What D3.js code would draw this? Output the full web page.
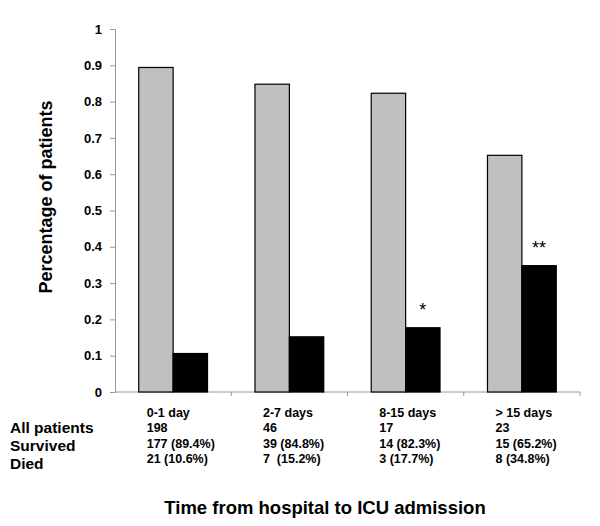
<!DOCTYPE html>
<html><head><meta charset="utf-8">
<script src="https://cdn.jsdelivr.net/npm/d3@7"></script>
<style>body{margin:0;background:#fff}svg{display:block;font-family:"Liberation Sans",Arial,sans-serif;font-weight:bold}</style>
</head><body><svg id="c" width="600" height="526"></svg>
<script>
const categories = ["0-1 day","2-7 days","8-15 days","> 15 days"];
const series = ["Survived","Died"];
const survived = [0.894,0.848,0.823,0.652];
const died = [0.106,0.152,0.177,0.348];
const allPatients = ["198","46","17","23"];
const survivedText = ["177 (89.4%)","39 (84.8%)","14 (82.3%)","15 (65.2%)"];
const diedText = ["21 (10.6%)","7  (15.2%)","3 (17.7%)","8 (34.8%)"];
const significance = ["","","*","**"];
const yTicks = [0,0.1,0.2,0.3,0.4,0.5,0.6,0.7,0.8,0.9,1];
const rowLabels = ["All patients","Survived","Died"];

const svg = d3.select("#c");
const x0 = d3.scaleBand().domain(categories).range([115,580]).padding(0);
const x1 = d3.scaleBand().domain(series).range([0,x0.bandwidth()]).paddingInner(0).paddingOuter(0.69);
const y = d3.scaleLinear().domain([0,1]).range([392,29]);
const color = {Survived:"#c0c0c0", Died:"#000000"};

// y axis
const ya = svg.append("g").attr("transform","translate(115,0)")
  .call(d3.axisLeft(y).tickValues(yTicks).tickSize(5).tickPadding(8).tickFormat(d=>d3.format("")(d)));
ya.select(".domain").attr("stroke","#999");
ya.selectAll(".tick line").attr("stroke","#999");
ya.selectAll("text").attr("font-size",13).attr("font-weight","bold").attr("fill","#000").attr("font-family","Liberation Sans, Arial, sans-serif");

// x axis
const xa = svg.append("g").attr("transform","translate(0,392)");
xa.append("line").attr("x1",115).attr("x2",580).attr("stroke","#999");
xa.selectAll("line.t").data(categories).enter().append("line").attr("class","t")
  .attr("x1",d=>x0(d)+x0.bandwidth()).attr("x2",d=>x0(d)+x0.bandwidth()).attr("y1",0).attr("y2",4).attr("stroke","#999");

// bars
const data = categories.map((c,i)=>({c, vals:[{s:"Survived",v:survived[i]},{s:"Died",v:died[i]}], sig:significance[i]}));
const g = svg.selectAll("g.grp").data(data).enter().append("g").attr("class","grp")
  .attr("transform",d=>`translate(${x0(d.c)},0)`);
g.selectAll("rect").data(d=>d.vals).enter().append("rect")
  .attr("x",d=>x1(d.s)).attr("width",x1.bandwidth())
  .attr("y",d=>y(d.v)).attr("height",d=>y(0)-y(d.v))
  .attr("fill",d=>color[d.s]).attr("stroke","#000").attr("stroke-width",1.2);
g.append("text").attr("x",x1("Died")+x1.bandwidth()/2).attr("y",d=>y(d.vals[1].v)-12)
  .attr("text-anchor","middle").attr("font-size",18).attr("font-weight","normal").text(d=>d.sig);

// y label
svg.append("text").attr("transform","translate(52,197) rotate(-90)").attr("text-anchor","middle")
  .attr("font-size",18).text("Percentage of patients");

// table
const rows = [categories, allPatients, survivedText, diedText];
rows.forEach((r,ri)=>{
  svg.selectAll(null).data(r).enter().append("text")
    .attr("x",(d,i)=>x0(categories[i])+x1("Survived")+8)
    .attr("y",417+ri*15.3).attr("font-size",12.5).attr("xml:space","preserve").text(d=>d);
});
rowLabels.forEach((l,i)=>{
  svg.append("text").attr("x",10).attr("y",433+i*18).attr("font-size",15.5).text(l);
});

svg.append("text").attr("x",325).attr("y",514).attr("text-anchor","middle").attr("font-size",18.5)
  .text("Time from hospital to ICU admission");
</script></body></html>
